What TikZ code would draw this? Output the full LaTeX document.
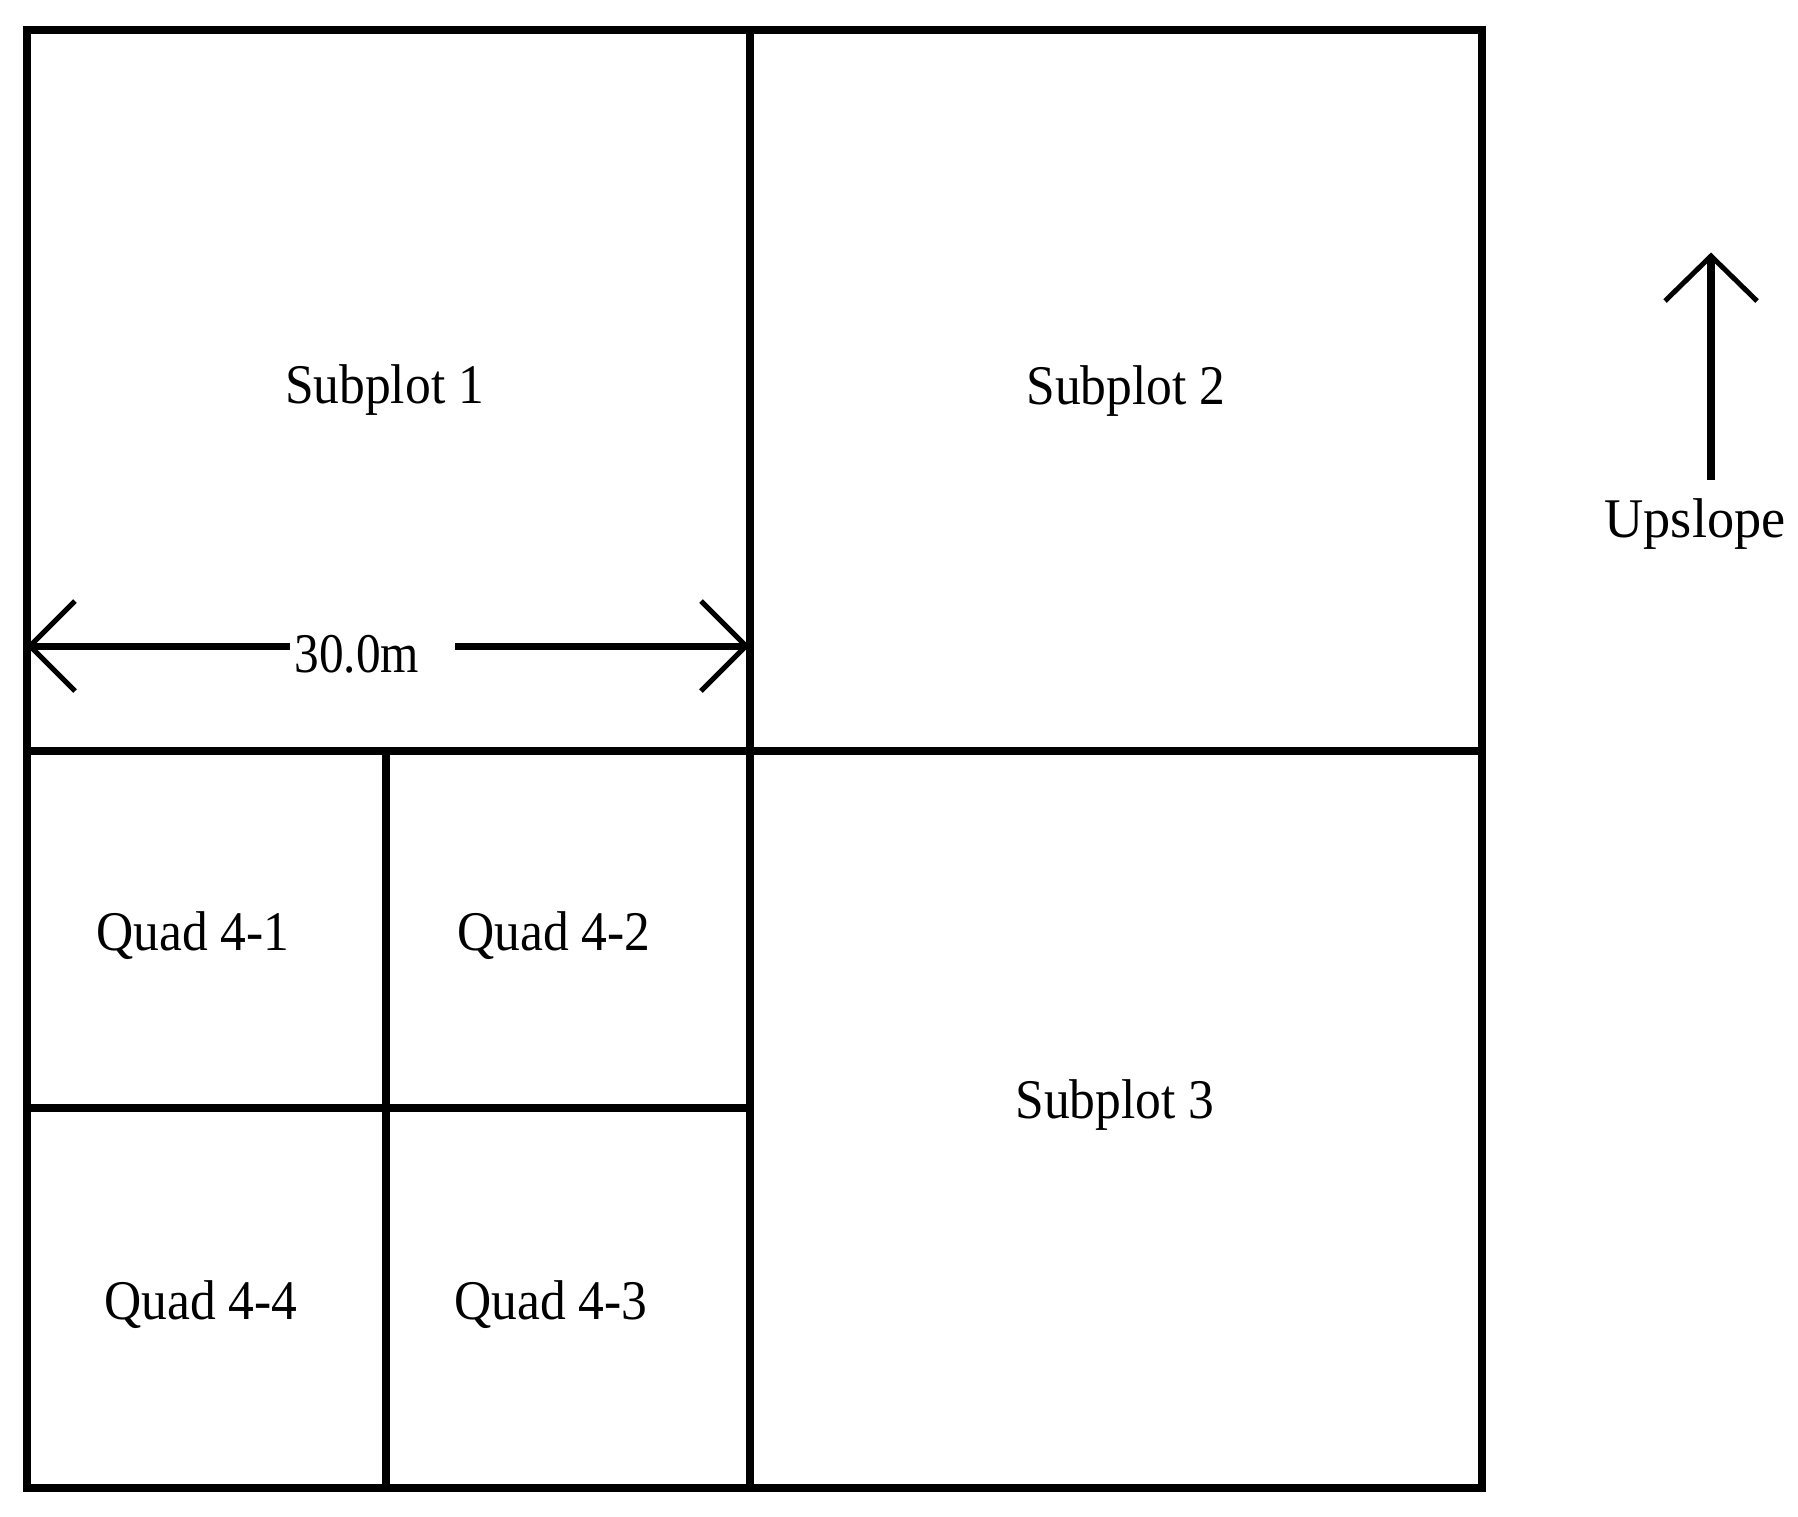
\documentclass[tikz,border=0pt]{standalone}
\usepackage{fontspec}
\setmainfont{Liberation Serif}
\usetikzlibrary{calc}
\newcommand\plotlbl[1]{\scalebox{0.92}[1]{#1}}
\tikzset{
  frame/.style={line width=8pt, line join=miter, line cap=rect},
  dimline/.style={line width=7pt},
  barb/.style={line width=5pt, line join=miter},
  lbl/.style={inner sep=0pt, anchor=base, font=\fontsize{56}{60}\selectfont}
}
\begin{document}
\begin{tikzpicture}[x=1pt,y=-1pt]
\useasboundingbox (0,0) rectangle (1798,1516);
% frame and grid
\coordinate (TL) at (26.5,30);
\coordinate (BR) at (1481.5,1488);
\draw[frame] (TL) rectangle (BR);
\coordinate (mt) at (750,30);
\coordinate (mb) at (750,1488);
\coordinate (ml) at (26.5,751);
\coordinate (mr) at (1481.5,751);
\draw[frame] (mt) -- (mb);
\draw[frame] (ml) -- (mr);
\coordinate (qt) at (386,751);
\coordinate (qb) at (386,1488);
\coordinate (ql) at (26.5,1107.5);
\coordinate (qr) at (750,1107.5);
\draw[frame] (qt) -- (qb);
\draw[frame] (ql) -- (qr);
% labels
\node[lbl] (s1) at (384.5,403) {\plotlbl{Subplot 1}};
\node[lbl] (s2) at (1126,404) {\plotlbl{Subplot 2}};
\node[lbl] (s3) at (1115,1118) {\plotlbl{Subplot 3}};
\node[lbl] (q1) at (193,950) {\plotlbl{Quad 4-1}};
\node[lbl] (q2) at (554,950) {\plotlbl{Quad 4-2}};
\node[lbl] (q4) at (201,1319) {\plotlbl{Quad 4-4}};
\node[lbl] (q3) at (551,1319) {\plotlbl{Quad 4-3}};
\node[lbl] (dim) at (357,672) {\scalebox{0.88}[1]{30.0m}};
\node[lbl] (up) at (1695,537) {\scalebox{0.97}[1]{Upslope}};
% dimension arrow
\coordinate (tipL) at (30,646);
\coordinate (tipR) at (746,646);
\coordinate (dl) at (290,646);
\coordinate (dr) at (455,646);
\draw[dimline] (tipL) -- (dl);
\draw[dimline] (dr) -- (tipR);
\draw[barb] ($(tipL)+(45,-45)$) -- (tipL) -- ($(tipL)+(45,45)$);
\draw[barb] ($(tipR)+(-45,-45)$) -- (tipR) -- ($(tipR)+(-45,45)$);
% upslope arrow
\coordinate (ub) at (1711,480);
\coordinate (ut) at (1711,256);
\draw[line width=8pt] (ub) -- (ut);
\draw[barb] ($(ut)+(-46,45)$) -- (ut) -- ($(ut)+(46,45)$);
\end{tikzpicture}
\end{document}
